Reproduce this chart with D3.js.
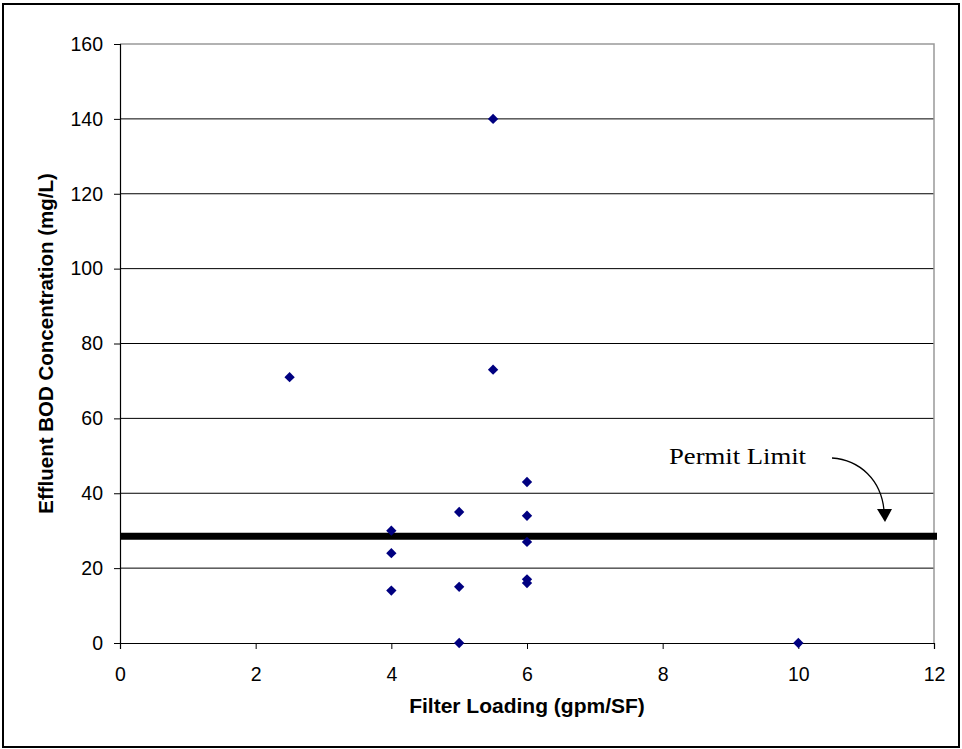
<!DOCTYPE html>
<html>
<head>
<meta charset="utf-8">
<script src="https://cdn.jsdelivr.net/npm/d3@7"></script>
<style>
  body { margin: 0; background: #fff; }
  svg { display: block; }
</style>
</head>
<body>
<svg id="chart" width="962" height="749"></svg>
<script>
// Effluent BOD vs filter loading, scatter with a permit limit line.
const loading = [2.5, 4, 4, 4, 5, 5, 5, 5.5, 5.5, 6, 6, 6, 6, 6, 10];
const bod     = [71, 30, 24, 14, 35, 15, 0, 140, 73, 43, 34, 27, 17, 16, 0];
const xTicks = [0, 2, 4, 6, 8, 10, 12];
const yTicks = [0, 20, 40, 60, 80, 100, 120, 140, 160];
const permitLimit = 28.5;

const W = 962, H = 749;
const M = { top: 44, right: 28, bottom: 106, left: 120 };
const SANS = 'Liberation Sans, Arial, sans-serif';

const svg = d3.select('#chart');

// outer frame
svg.append('rect')
  .attr('x', 3).attr('y', 4).attr('width', 956).attr('height', 743)
  .attr('fill', 'none').attr('stroke', '#000').attr('stroke-width', 2);

const x = d3.scaleLinear().domain([0, 12]).range([M.left, W - M.right]);
const y = d3.scaleLinear().domain([0, 160]).range([H - M.bottom, M.top]);

// gridlines
svg.append('g')
  .selectAll('line')
  .data(yTicks.filter(d => d > 0 && d < 160))
  .join('line')
  .attr('x1', x(0)).attr('x2', x(12))
  .attr('y1', d => y(d)).attr('y2', d => y(d))
  .attr('stroke', '#000').attr('stroke-width', 1);

// plot frame top / right (grey)
svg.append('path')
  .attr('d', `M${x(0)},${y(160)}H${x(12)}V${y(0)}`)
  .attr('fill', 'none').attr('stroke', '#999').attr('stroke-width', 1.5);

// axes
const xAxis = svg.append('g')
  .attr('transform', `translate(0,${y(0)})`)
  .call(d3.axisBottom(x).tickValues(xTicks).tickSize(6).tickPadding(18).tickFormat(d3.format('d')));
const yAxis = svg.append('g')
  .attr('transform', `translate(${x(0)},0)`)
  .call(d3.axisLeft(y).tickValues(yTicks).tickSize(6).tickPadding(11).tickFormat(d3.format('d')));
[xAxis, yAxis].forEach(a => {
  a.select('.domain').attr('stroke', '#000').attr('stroke-width', 1.2);
  a.selectAll('.tick line').attr('stroke', '#000');
  a.selectAll('text')
    .attr('font-family', SANS)
    .attr('font-size', 19.5).attr('fill', '#000');
});

// permit limit line
svg.append('line')
  .attr('x1', x(0)).attr('x2', x(12) + 3)
  .attr('y1', y(permitLimit)).attr('y2', y(permitLimit))
  .attr('stroke', '#000').attr('stroke-width', 7);

// points
svg.append('g')
  .selectAll('path')
  .data(loading.map((d, i) => [d, bod[i]]))
  .join('path')
  .attr('transform', d => `translate(${x(d[0])},${y(d[1])})`)
  .attr('d', d3.symbol(d3.symbolDiamond2, 68))
  .attr('fill', '#000080');

// annotation
svg.append('text')
  .attr('x', 669).attr('y', 464)
  .attr('font-family', 'Liberation Serif, serif')
  .attr('font-size', 24)
  .attr('textLength', 137)
  .attr('lengthAdjust', 'spacingAndGlyphs')
  .attr('fill', '#000')
  .text('Permit Limit');

svg.append('path')
  .attr('d', 'M832,458 C860,460 881,480 884,510')
  .attr('fill', 'none').attr('stroke', '#000').attr('stroke-width', 1.3);
svg.append('path')
  .attr('d', 'M877,509 L892,509 L885,522 Z')
  .attr('fill', '#000');

// axis titles
svg.append('text')
  .attr('x', (x(0) + x(12)) / 2).attr('y', 713)
  .attr('text-anchor', 'middle')
  .attr('font-family', SANS)
  .attr('font-weight', 'bold').attr('font-size', 21)
  .text('Filter Loading (gpm/SF)');

svg.append('text')
  .attr('transform', `translate(53,${(y(0) + y(160)) / 2}) rotate(-90)`)
  .attr('text-anchor', 'middle')
  .attr('font-family', SANS)
  .attr('font-weight', 'bold').attr('font-size', 20.5)
  .text('Effluent BOD Concentration (mg/L)');
</script>
</body>
</html>
